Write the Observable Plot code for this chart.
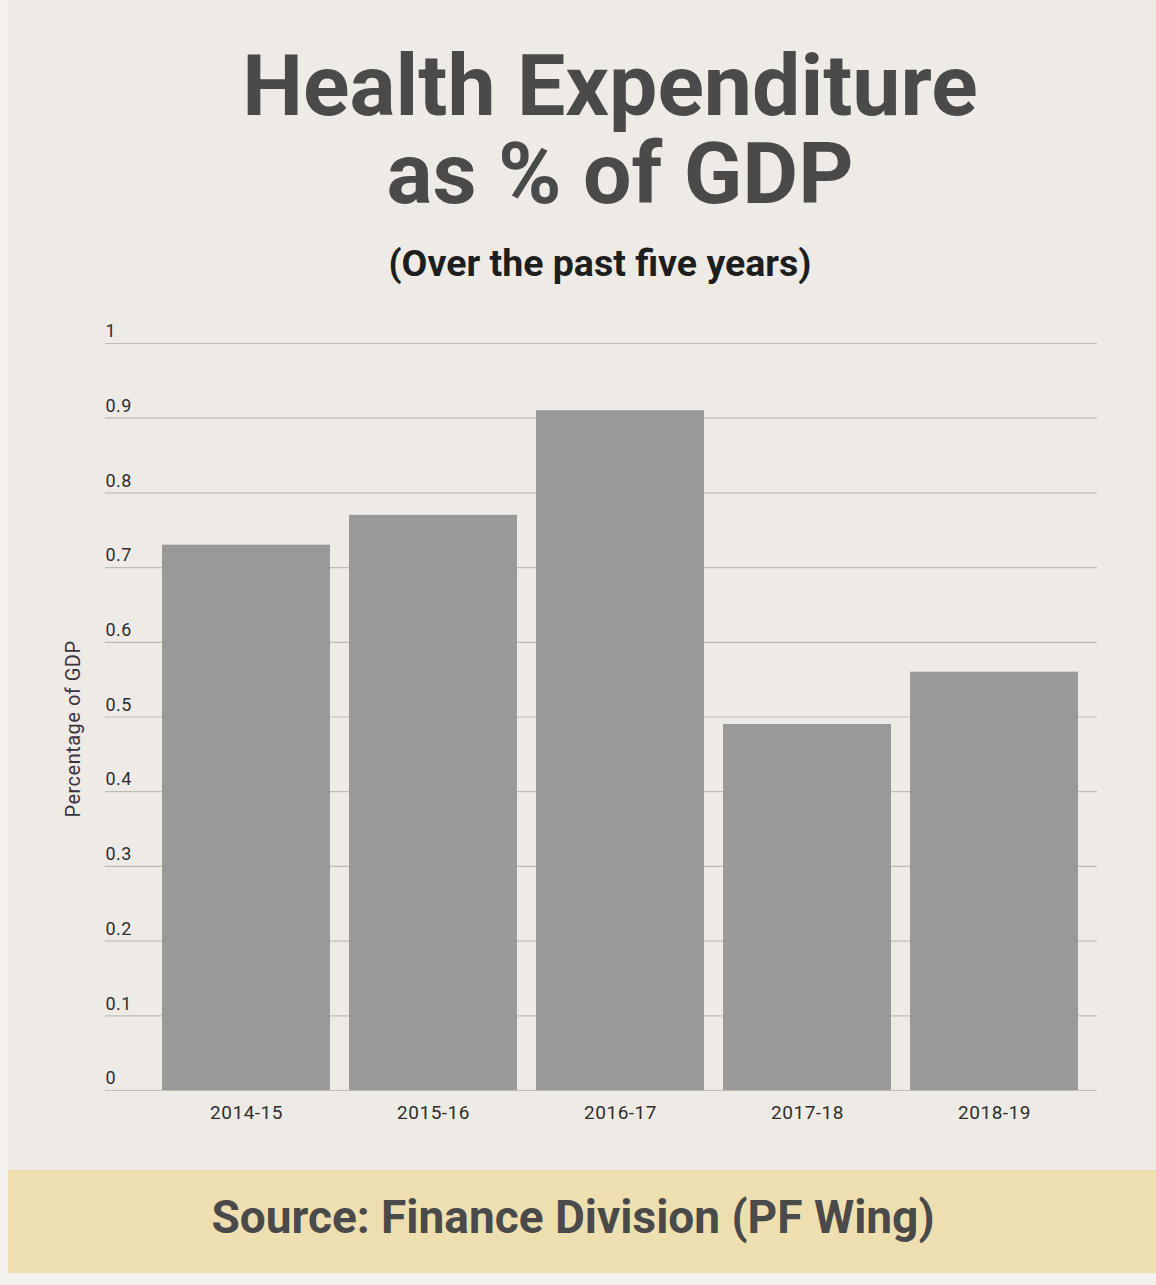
<!DOCTYPE html>
<html><head><meta charset="utf-8">
<script src="https://cdn.jsdelivr.net/npm/d3@7"></script>
<script src="https://cdn.jsdelivr.net/npm/@observablehq/plot@0.6"></script>
<style>
html,body{margin:0;padding:0;background:#f3f2ef;}
#page{position:relative;width:1156px;height:1285px;overflow:hidden;background:#f3f2ef;}
#panel{position:absolute;left:8px;top:0;width:1148px;height:1273px;background:#eeebe6;}
.title{position:absolute;text-align:center;font:700 86px/86px Roboto,sans-serif;color:#4a4a4a;margin:0;white-space:nowrap;}
#title1{left:64px;width:1092px;top:43px;}
#title2{left:84px;width:1072px;top:131px;}
#subtitle{position:absolute;left:0;width:1200px;top:241px;text-align:center;font:700 37.5px/44px Roboto,sans-serif;color:#1e1e1e;margin:0;}
#footer{position:absolute;left:8px;top:1170px;width:1148px;height:103px;background:#eedfb1;}
#footer p{position:absolute;left:0;width:1130px;top:22px;text-align:center;font:700 46px/50px Roboto,sans-serif;color:#4a4a4a;margin:0;}
#chart{position:absolute;left:0;top:300px;}
</style></head>
<body>
<div id="page">
  <div id="panel"></div>
  <div id="title1" class="title">Health Expenditure</div>
  <div id="title2" class="title">as % of GDP</div>
  <div id="subtitle">(Over the past five years)</div>
  <div id="chart"></div>
  <div id="footer"><p>Source: Finance Division (PF Wing)</p></div>
</div>
<script>
const categories = ["2014-15", "2015-16", "2016-17", "2017-18", "2018-19"];
const values = [0.73, 0.77, 0.91, 0.49, 0.56];
const yTicks = [0, 0.1, 0.2, 0.3, 0.4, 0.5, 0.6, 0.7, 0.8, 0.9, 1];
const yLabel = "Percentage of GDP";

const data = categories.map((c, i) => ({year: c, value: values[i]}));

const chart = Plot.plot({
  width: 1156,
  height: 850,
  marginTop: 43,
  marginBottom: 60,
  marginLeft: 105,
  marginRight: 59,
  style: {background: "transparent", fontFamily: "Roboto, sans-serif", fontSize: "18px", color: "#333", overflow: "visible", letterSpacing: "0.5px"},
  x: {domain: categories, paddingInner: 0.1, paddingOuter: 0.2, align: 0.75, label: null},
  y: {domain: [0, 1], label: null},
  marks: [
    Plot.ruleY(yTicks, {stroke: "#bfbbb5", strokeWidth: 1.2}),
    Plot.barY(data, {x: "year", y: "value", fill: "#999999"}),
    Plot.axisY(yTicks, {anchor: "left", tickSize: 0, tickPadding: 0, textAnchor: "start", dy: -12, fill: "#2e2e2e", fontSize: 18, tickFormat: d => String(d), label: null}),
    Plot.axisX({anchor: "bottom", tickSize: 0, tickPadding: 14.5, fill: "#2e2e2e", fontSize: 19, label: null}),
    Plot.text([yLabel], {frameAnchor: "left", text: d => d, rotate: -90, textAnchor: "middle", dx: -32, dy: 12, fill: "#3b3340", fontSize: 20})
  ]
});
document.getElementById("chart").appendChild(chart);
</script>
</body></html>
